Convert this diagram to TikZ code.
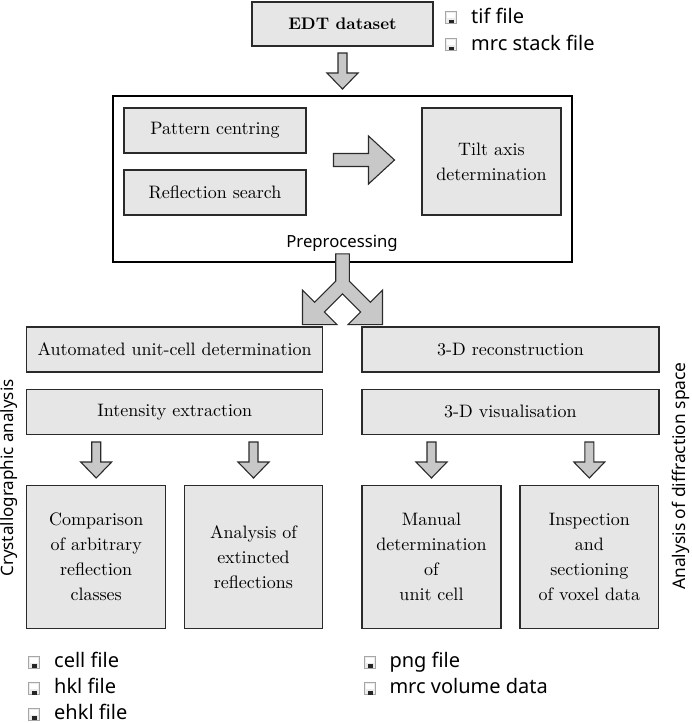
\documentclass[tikz,border=0pt]{standalone}
\usepackage{fontspec}
\setmainfont{lmroman10-regular.otf}[BoldFont=lmroman10-bold.otf, ItalicFont=lmroman10-italic.otf]
\setsansfont{Noto Sans}
\usetikzlibrary{calc}
\definecolor{boxfill}{HTML}{E6E6E6}
\definecolor{arrfill}{HTML}{C8C8C8}
\definecolor{linec}{HTML}{2A2A2A}
\tikzset{
  box/.style={draw=linec, fill=boxfill, line width=1.2pt, inner sep=0pt, align=center,
    font=\rmfamily\fontsize{18}{25}\selectfont},
  outerbox/.style={draw=black, fill=white, line width=1.1pt, inner sep=0pt},
  sanslbl/.style={inner sep=0pt, font=\sffamily\fontsize{16.7}{20}\selectfont},
  filelbl/.style={inner sep=0pt, anchor=base west, font=\sffamily\fontsize{20}{22}\selectfont},
  arrowst/.style={draw=linec, fill=arrfill, line width=1.1pt, line join=miter},
  downarr/.pic={\path[arrowst] (-4.5,-18) -- (4.5,-18) -- (4.5,2) -- (15.5,2) -- (0,18) -- (-15.5,2) -- (-4.5,2) -- cycle;},
  rightarr/.pic={\path[arrowst] (-30.5,-6.5) -- (4.5,-6.5) -- (4.5,-24) -- (30.5,0) -- (4.5,24) -- (4.5,6.5) -- (-30.5,6.5) -- cycle;},
  floppy/.pic={
    \path[draw=gray!70, fill=gray!15, line width=0.8pt] (-5.5,-6) rectangle (5.5,6);
    \fill[white] (-3.6,-4.4) rectangle (3.6,0.6);
    \fill[black!85] (-2.2,2.2) rectangle (2.6,6);
  }
}
\begin{document}
\begin{tikzpicture}[x=1pt,y=-1pt]
\useasboundingbox (0,0) rectangle (692,723);

% top
\node[box, minimum width=181pt, minimum height=44pt,
      font=\rmfamily\bfseries\fontsize{16.8}{20}\selectfont] (edt) at (342.5,24) {EDT dataset};
\pic at (451,17.3) {floppy};
\node[filelbl] (tif) at (471,23.3) {tif file};
\pic at (451,44.3) {floppy};
\node[filelbl] (mrcs) at (471,50.5) {mrc stack file};

% preprocessing
\node[outerbox, minimum width=459pt, minimum height=166pt] (pre) at (342.5,179) {};
\node[box, minimum width=182pt, minimum height=45pt] (pc) at (215,130.5) {Pattern centring};
\node[box, minimum width=182pt, minimum height=45pt] (rs) at (215,192.5) {Reflection search};
\node[box, minimum width=139pt, minimum height=107pt] (tilt) at (491.5,161.5) {Tilt axis\\determination};
\node[sanslbl, anchor=base] (prelbl) at (342,247.3) {Preprocessing};

\pic at ($($(pc.east |- tilt.west)!0.5!(tilt.west)$)+(0,-1.5)$) {rightarr};
\pic at ($(edt.south)!0.5!(pre.north)$) {downarr};

% lower section
\node[box, minimum width=296pt, minimum height=45pt] (auto) at (174.7,349.5) {Automated unit-cell determination};
\node[box, minimum width=297pt, minimum height=45pt] (recon) at (510.5,349.5) {3-D reconstruction};
\node[box, minimum width=296pt, minimum height=45pt] (inten) at (174.7,411.8) {Intensity extraction};
\node[box, minimum width=297pt, minimum height=45pt] (vis) at (510.4,411.8) {3-D visualisation};

\node[box, minimum width=139pt, minimum height=142.6pt] (comp) at (96.2,557) {Comparison\\of arbitrary\\reflection\\classes};
\node[box, minimum width=138.4pt, minimum height=142.6pt] (anal) at (253.5,557) {Analysis of\\extincted\\reflections};
\node[box, minimum width=139pt, minimum height=142.6pt] (man) at (431.5,557) {Manual\\determination\\of\\unit cell};
\node[box, minimum width=138.7pt, minimum height=142.6pt] (insp) at (589.3,557) {Inspection\\and\\sectioning\\of voxel data};

\pic at ($(comp.north |- inten.south)!0.5!(comp.north)$) {downarr};
\pic at ($(anal.north |- inten.south)!0.5!(anal.north)$) {downarr};
\pic at ($(man.north |- vis.south)!0.5!(man.north)$) {downarr};
\pic at ($(insp.north |- vis.south)!0.5!(insp.north)$) {downarr};

% split arrow from preprocessing to both branches
\begin{scope}[shift={(pre.south)}]
\path[arrowst] (-6.8,-8.7) -- (6.8,-8.7) -- (6.8,18.7) -- (27.8,39.7) -- (40,27.5) -- (40,62)
  -- (5.5,62) -- (18.1,49.4) -- (0,31.3) -- (-18.1,49.4) -- (-5.5,62) -- (-40,62) -- (-40,27.5)
  -- (-27.8,39.7) -- (-6.8,18.7) -- cycle;
\end{scope}

% side labels
\node[sanslbl, rotate=90, anchor=base, font=\sffamily\fontsize{17}{20}\selectfont] (crys) at (13,478) {Crystallographic analysis};
\node[sanslbl, rotate=90, anchor=base, font=\sffamily\fontsize{17.4}{20}\selectfont] (diff) at (685,476) {Analysis of diffraction space};

% output files
\pic at (34,662) {floppy};
\node[filelbl] (cell) at (54,667.3) {cell file};
\pic at (34,688.5) {floppy};
\node[filelbl] (hkl) at (54,693.8) {hkl file};
\pic at (34,714) {floppy};
\node[filelbl] (ehkl) at (54,719.3) {ehkl file};
\pic at (370,662) {floppy};
\node[filelbl] (png) at (389.3,667.3) {png file};
\pic at (370,688.5) {floppy};
\node[filelbl] (mrcv) at (389.3,693.8) {mrc volume data};
\end{tikzpicture}
\end{document}
